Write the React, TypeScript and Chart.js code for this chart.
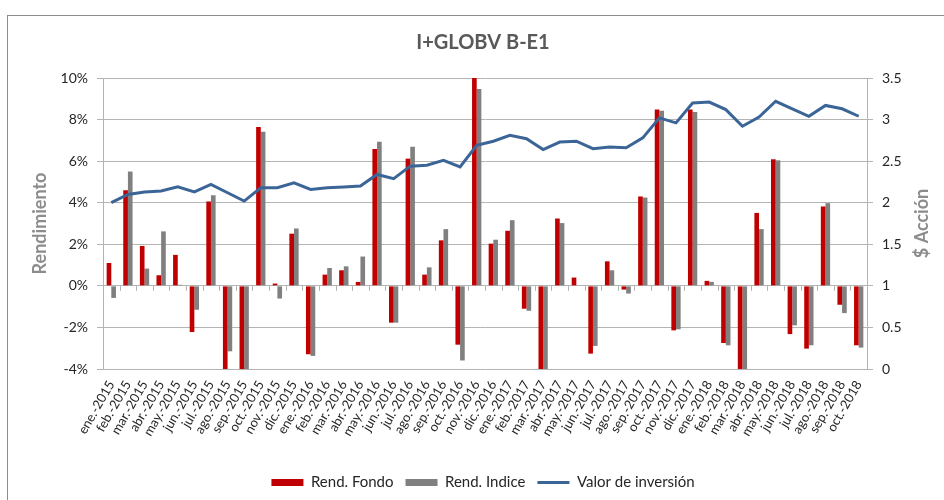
import React, { useEffect, useRef } from "react";
import { Chart, registerables } from "chart.js";

Chart.register(...registerables);

const categories = [
  "ene.-2015", "feb.-2015", "mar.-2015", "abr.-2015", "may.-2015", "jun.-2015",
  "jul.-2015", "ago.-2015", "sep.-2015", "oct.-2015", "nov.-2015", "dic.-2015",
  "ene.-2016", "feb.-2016", "mar.-2016", "abr.-2016", "may.-2016", "jun.-2016",
  "jul.-2016", "ago.-2016", "sep.-2016", "oct.-2016", "nov.-2016", "dic.-2016",
  "ene.-2017", "feb.-2017", "mar.-2017", "abr.-2017", "may.-2017", "jun.-2017",
  "jul.-2017", "ago.-2017", "sep.-2017", "oct.-2017", "nov.-2017", "dic.-2017",
  "ene.-2018", "feb.-2018", "mar.-2018", "abr.-2018", "may.-2018", "jun.-2018",
  "jul.-2018", "ago.-2018", "sep.-2018", "oct.-2018",
];

// Rendimiento (%)
const rendFondo = [
  1.1, 4.6, 1.92, 0.51, 1.49, -2.22, 4.06, -4.3, -4.5, 7.64, 0.11, 2.51,
  -3.29, 0.54, 0.75, 0.19, 6.58, -1.77, 6.12, 0.54, 2.19, -2.83, 10.0, 2.03,
  2.65, -1.1, -4.4, 3.24, 0.4, -3.26, 1.18, -0.18, 4.3, 8.48, -2.14, 8.48,
  0.24, -2.75, -4.6, 3.51, 6.09, -2.32, -3.02, 3.82, -0.91, -2.86,
];

const rendIndice = [
  -0.58, 5.5, 0.83, 2.62, 0.05, -1.15, 4.36, -3.15, -4.3, 7.41, -0.61, 2.76,
  -3.37, 0.86, 0.94, 1.41, 6.93, -1.77, 6.69, 0.89, 2.73, -3.59, 9.47, 2.22,
  3.16, -1.2, -4.2, 3.02, 0.0, -2.89, 0.75, -0.37, 4.25, 8.43, -2.09, 8.37,
  0.19, -2.86, -4.3, 2.73, 6.04, -1.9, -2.86, 3.98, -1.31, -2.97,
];

// $ Acción
const valorInversion = [
  2.0, 2.1, 2.13, 2.14, 2.19, 2.13, 2.22, 2.12, 2.02, 2.18, 2.18, 2.24,
  2.16, 2.18, 2.19, 2.2, 2.34, 2.29, 2.44, 2.45, 2.51, 2.43, 2.69, 2.74,
  2.81, 2.77, 2.64, 2.73, 2.74, 2.65, 2.67, 2.66, 2.78, 3.02, 2.96, 3.2,
  3.21, 3.12, 2.92, 3.03, 3.22, 3.13, 3.04, 3.17, 3.13, 3.04,
];

const seriesNames = ["Rend. Fondo", "Rend. Indice", "Valor de inversión"];
const chartTitle = "I+GLOBV B-E1";
const leftAxisTitle = "Rendimiento";
const rightAxisTitle = "$ Acción";

const FONT = "Lato, 'Open Sans', sans-serif";
const GRID = "#B4B4B4";

const extrasPlugin = {
  id: "extras",
  afterDatasetsDraw(chart: any) {
    const ctx = chart.ctx;
    const x = chart.scales.x;
    const y = chart.scales.y;
    const zeroY = y.getPixelForValue(0);
    const n = categories.length;
    const step = (x.right - x.left) / n;
    ctx.save();
    ctx.strokeStyle = GRID;
    ctx.lineWidth = 1;
    ctx.beginPath();
    for (let i = 0; i <= n; i++) {
      const px = Math.round(x.left + i * step) + 0.5;
      ctx.moveTo(px, zeroY);
      ctx.lineTo(px, zeroY + 5);
    }
    ctx.stroke();
    ctx.restore();
  },
  afterDraw(chart: any) {
    const ctx = chart.ctx;
    const y1 = chart.scales.y1;
    ctx.save();
    ctx.translate(922, (y1.top + y1.bottom) / 2);
    ctx.rotate(-Math.PI / 2);
    ctx.font = `bold 18px ${FONT}`;
    ctx.fillStyle = "#8C8C8C";
    ctx.textAlign = "center";
    ctx.textBaseline = "middle";
    ctx.fillText(rightAxisTitle, 0, 0);
    ctx.restore();
  },
};

export default function App() {
  const ref = useRef<HTMLCanvasElement | null>(null);

  useEffect(() => {
    if (!ref.current) return;
    const chart = new Chart(ref.current, {
      type: "bar",
      data: {
        labels: categories,
        datasets: [
          {
            type: "bar",
            label: seriesNames[0],
            data: rendFondo,
            backgroundColor: "#C00000",
            yAxisID: "y",
            barPercentage: 1,
            categoryPercentage: 0.56,
            order: 2,
          },
          {
            type: "bar",
            label: seriesNames[1],
            data: rendIndice,
            backgroundColor: "#808080",
            yAxisID: "y",
            barPercentage: 1,
            categoryPercentage: 0.56,
            order: 2,
          },
          {
            type: "line",
            label: seriesNames[2],
            data: valorInversion,
            borderColor: "#3C6597",
            backgroundColor: "#3C6597",
            borderWidth: 3,
            pointRadius: 0,
            tension: 0,
            yAxisID: "y1",
            order: 0,
          } as any,
        ],
      },
      options: {
        animation: false,
        responsive: true,
        maintainAspectRatio: false,
        layout: { padding: { left: 22, right: 0, top: 0, bottom: 0 } },
        plugins: {
          title: {
            display: true,
            text: chartTitle,
            color: "#595959",
            font: { family: FONT, size: 20, weight: "bold" },
            padding: { top: 31, bottom: 23 },
          },
          legend: {
            display: true,
            position: "bottom",
            labels: {
              color: "#262626",
              font: { family: FONT, size: 15 },
              usePointStyle: true,
              pointStyleWidth: 32,
              boxWidth: 32,
              boxHeight: 7,
              padding: 12,
              generateLabels: (c: any) =>
                c.data.datasets.map((ds: any, i: number) => {
                  const isLine = ds.type === "line";
                  return {
                    text: ds.label,
                    fillStyle: isLine ? ds.borderColor : ds.backgroundColor,
                    strokeStyle: isLine ? ds.borderColor : ds.backgroundColor,
                    lineWidth: isLine ? 3 : 0,
                    pointStyle: isLine ? "line" : "rect",
                    hidden: false,
                    datasetIndex: i,
                    fontColor: "#262626",
                  };
                }),
            },
          },
          tooltip: { enabled: false },
        },
        scales: {
          x: {
            grid: { display: false, drawTicks: false },
            border: { display: false },
            ticks: {
              autoSkip: false,
              minRotation: 60,
              maxRotation: 60,
              color: "#262626",
              font: { family: FONT, size: 13 },
              padding: 9,
            },
            afterFit: (s: any) => {
              s.height = 94;
            },
          },
          y: {
            position: "left",
            min: -4,
            max: 10,
            ticks: {
              stepSize: 2,
              color: "#262626",
              font: { family: FONT, size: 14 },
              padding: 9,
              callback: (v: any) => `${v}%`,
            },
            grid: { color: GRID, tickLength: 6 },
            border: { display: true, color: GRID },
            title: {
              display: true,
              text: leftAxisTitle,
              color: "#8C8C8C",
              font: { family: FONT, size: 18, weight: "bold" },
              padding: { top: 7, bottom: 0 },
            },
            afterFit: (s: any) => {
              s.width = 81;
            },
          },
          y1: {
            position: "right",
            min: 0,
            max: 3.5,
            ticks: {
              stepSize: 0.5,
              color: "#262626",
              font: { family: FONT, size: 14 },
              padding: 9,
              callback: (v: any) => String(Number(v)),
            },
            grid: { drawOnChartArea: false, color: GRID, tickLength: 6 },
            border: { display: true, color: GRID },
            afterFit: (s: any) => {
              s.width = 77;
            },
          },
        },
      },
      plugins: [extrasPlugin],
    });
    return () => chart.destroy();
  }, []);

  return (
    <div
      style={{
        position: "absolute",
        left: 0,
        top: 0,
        width: 944,
        height: 500,
        overflow: "hidden",
        background: "#ffffff",
      }}
    >
      <div
        style={{
          position: "absolute",
          left: 7,
          top: 15,
          width: 1000,
          height: 600,
          border: "1px solid #8C8C8C",
        }}
      />
      <div style={{ position: "absolute", left: 0, top: 0, width: 944, height: 500 }}>
        <canvas ref={ref} />
      </div>
    </div>
  );
}
